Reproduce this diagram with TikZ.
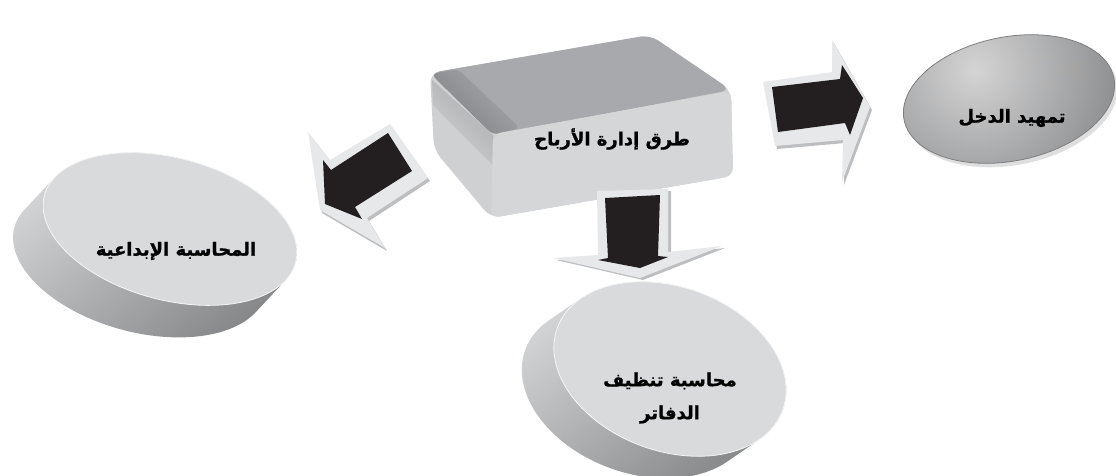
\documentclass[tikz,border=0pt]{standalone}
\usepackage{fontspec}
\newfontfamily\arabicfont[Script=Arabic, FakeBold=1.2]{DejaVu Sans Bold}
\TeXXeTstate=1
\newcommand\elp[7]{plot[domain=#6:#7,samples=90,variable=\t]({#1+(#3)*cos(\t)*cos(#5)-(#4)*sin(\t)*sin(#5)},{#2+(#3)*cos(\t)*sin(#5)+(#4)*sin(\t)*cos(#5)})}
\newcommand\elpto[7]{-- plot[domain=#6:#7,samples=90,variable=\t]({#1+(#3)*cos(\t)*cos(#5)-(#4)*sin(\t)*sin(#5)},{#2+(#3)*cos(\t)*sin(#5)+(#4)*sin(\t)*cos(#5)})}
\definecolor{arrowblack}{HTML}{231F20}
\definecolor{bevel}{HTML}{E7E8E9}
\definecolor{bevelshadow}{HTML}{BDBEC0}
\definecolor{boxtop}{HTML}{A8A9AC}
\definecolor{boxtopdark}{HTML}{808184}
\definecolor{boxfront}{HTML}{D5D6D8}
\definecolor{boxside}{HTML}{CFD0D2}
\definecolor{disktop}{HTML}{D9DADB}
\definecolor{disksidelight}{HTML}{D2D3D4}
\definecolor{disksidedark}{HTML}{87888A}
\definecolor{ovallight}{HTML}{D4D4D5}
\definecolor{ovaldark}{HTML}{868788}
\definecolor{ovalrim}{HTML}{7D7E80}
\tikzset{
  lbl/.style={font=\arabicfont\fontsize{18}{33}\selectfont, text=black, inner sep=0pt, align=center},
  blackarrow/.style={fill=arrowblack},
  bevelarrow/.style={fill=bevel},
  bevelshade/.style={fill=bevelshadow},
  disktopface/.style={fill=disktop, draw=white!92!gray, line width=0.8pt},
}
\begin{document}
\begin{tikzpicture}[x=1pt,y=-1pt]
\useasboundingbox (0,0) rectangle (1116,475);

% ---------- central box ----------
\fill[boxside, rounded corners=10] (430,73)--(650,35)--(731,90)--(733,176)--(491,218)--(434,150)--cycle;
\fill[boxtop, rounded corners=10] (430,73)--(650,35)--(731,90)--(493,135)--cycle;
\shade[top color=boxtopdark, bottom color=boxtop, shading angle=135, rounded corners=6]
  (431,74)--(458,69)--(520,128)--(493,135)--cycle;
\shade[top color=boxtopdark!45!boxside, bottom color=boxside, shading angle=-45]
  (432,80)--(493,135)--(493,165)--(433,105)--cycle;
\fill[boxfront, rounded corners=8] (493,134)--(731,91)--(733,176)--(491,218)--cycle;
\node[lbl] (mgmt) at (612,139) {\beginR طرق إدارة الأرباح\endR};

% ---------- right arrow ----------
\path[bevelshade, shift={(2,3)}] (763,82)--(832,72)--(832,40)--(870,107)--(842,182)--(843,140)--(775,146)--cycle;
\path[bevelarrow] (763,82)--(832,72)--(832,40)--(870,107)--(842,182)--(843,140)--(775,146)--cycle;
\path[blackarrow] (772,87)--(840,79)--(842,65)--(863,98)--(850,135)--(845,123)--(778,132)--cycle;

% ---------- left arrow ----------
\path[bevelshade, shift={(2,3)}] (390,124)--(428,178)--(367,218)--(385,248)--(320,210)--(308,132)--(330,160)--cycle;
\path[bevelarrow] (390,124)--(428,178)--(367,218)--(385,248)--(320,210)--(308,132)--(330,160)--cycle;
\path[blackarrow] (388,133)--(412,171)--(355,207)--(362,219)--(325,204)--(323,160)--(331,170)--cycle;

% ---------- bottom arrow ----------
\path[bevelshade, shift={(3,2)}] (597,191)--(668,189)--(668,252)--(722,246)--(640,278)--(553,258)--(598,255)--cycle;
\path[bevelarrow] (597,191)--(668,189)--(668,252)--(722,246)--(640,278)--(553,258)--(598,255)--cycle;
\path[blackarrow] (605,198)--(660,195)--(658,256)--(668,257)--(640,268)--(598,260)--(608,258)--cycle;

% ---------- right oval ----------
\fill[gray!25] \elp{1012}{103}{107}{62}{-11.3}{0}{360} -- cycle;
\begin{scope}
  \clip \elp{1009}{99}{107}{62}{-11.3}{0}{360} -- cycle;
  \shade[inner color=ovallight, outer color=ovaldark] (975,70) circle[radius=160];
\end{scope}
\draw[ovalrim, line width=0.8pt] \elp{1009}{99}{107}{62}{-11.3}{0}{360} -- cycle;
\node[lbl] (smooth) at (1012,118) {\beginR تمهيد الدخل\endR};

% ---------- left disk ----------
\shade[top color=disksidelight, bottom color=disksidedark, shading angle=40]
  \elp{170}{229}{130}{71}{15}{196.3}{376.3} \elpto{140}{261}{130}{71}{15}{16.3}{196.3} -- cycle;
\path[disktopface] \elp{170}{229}{130}{71}{15}{0}{360} -- cycle;
\node[lbl] (creative) at (176,251) {\beginR المحاسبة الإبداعية\endR};

% ---------- bottom disk ----------
\shade[top color=disksidelight, bottom color=disksidedark, shading angle=40]
  \elp{670}{369}{120}{82}{20}{206}{386} \elpto{638}{391}{120}{82}{20}{26}{206} -- cycle;
\path[disktopface] \elp{670}{369}{120}{82}{20}{0}{360} -- cycle;
\node[lbl] (books) at (670,398) {\beginR محاسبة تنظيف\endR\\\beginR الدفاتر\endR};
\end{tikzpicture}
\end{document}
